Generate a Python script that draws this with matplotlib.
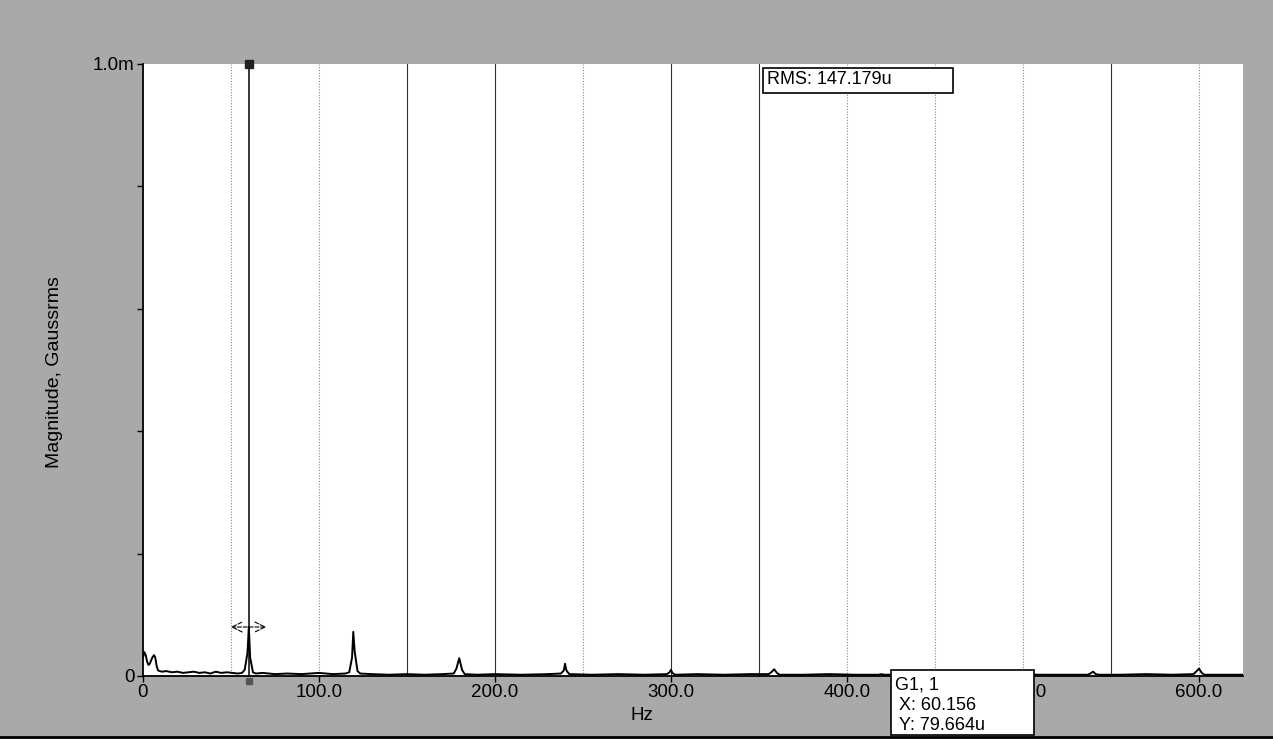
import matplotlib.pyplot as plt
from matplotlib.patches import Rectangle

plt.rcParams['font.family'] = ['Liberation Sans', 'DejaVu Sans']

# spectrum: frequency in Hz, magnitude in micro-gauss rms
freq_hz = [0.0, 0.8, 1.6, 2.3, 3.1, 3.9, 4.7, 5.5, 6.3, 7.0, 7.8, 8.6, 9.4, 10.9,
           13.3, 16.4, 19.5, 22.7, 25.8, 28.9, 32.0, 35.2, 38.3, 41.4, 44.5, 47.7,
           50.8, 53.9, 56.3, 57.8, 59.4, 60.156, 60.9, 62.5, 64.1, 68.0, 75.0, 82.0,
           90.0, 95.0, 100.0, 108.0, 115.0, 117.2, 118.8, 119.5, 120.3, 121.9, 123.4,
           130.0, 140.0, 150.0, 160.0, 170.0, 176.6, 178.1, 179.7, 181.3, 182.8,
           190.0, 200.0, 215.0, 230.0, 237.5, 239.1, 239.8, 240.6, 242.2, 255.0,
           270.0, 285.0, 297.7, 299.2, 300.0, 300.8, 302.3, 315.0, 330.0, 345.0,
           355.5, 357.0, 358.6, 360.2, 361.7, 375.0, 390.0, 405.0, 418.0, 419.5,
           421.1, 422.7, 435.0, 450.0, 465.0, 480.0, 495.0, 510.0, 525.0, 536.7,
           538.3, 539.8, 541.4, 543.0, 555.0, 570.0, 585.0, 596.9, 598.4, 600.0,
           601.6, 603.1, 615.0, 625.0]
mag_u = [30, 39, 34, 24, 18, 20, 26, 31, 34, 30, 16, 9, 8, 7,
         8, 6, 7, 5, 6, 7, 5, 6, 4, 7, 5, 6,
         5, 4, 5, 10, 38, 79.664, 30, 6, 4, 5, 3, 4,
         3, 4, 5, 3, 4, 6, 30, 72, 40, 8, 4,
         3, 2, 3, 2, 3, 4, 12, 29, 10, 3,
         2, 3, 2, 3, 4, 9, 20, 9, 3, 2,
         3, 2, 3, 6, 10, 5, 2, 3, 2, 3,
         3, 6, 11, 5, 2, 2, 3, 2, 2, 3,
         2, 2, 2, 3, 2, 2, 3, 2, 2, 2,
         4, 7, 3, 2, 2, 3, 2, 3, 7, 12,
         5, 2, 2, 2]

dark_grid_hz = [150, 200, 300, 350, 550]
light_grid_hz = [50, 100, 250, 400, 450, 500, 600]
x_ticks = [0, 100, 200, 300, 400, 500, 600]
x_tick_labels = ['0', '100.0', '200.0', '300.0', '400.0', '500.0', '600.0']
y_ticks = [0, 200, 400, 600, 800, 1000]
y_tick_labels = ['0', '', '', '', '', '1.0m']

cursor_x = 60.156
cursor_y = 79.664
rms_text = 'RMS: 147.179u'

fig = plt.figure(figsize=(12.73, 7.39), dpi=100, facecolor='#a9a9a9')
ax = fig.add_axes([0.1123, 0.0853, 0.8641, 0.8281])
ax.set_facecolor('white')

for g in light_grid_hz:
    ax.axvline(g, color='#8a8a8a', lw=0.8, ls=(0, (1, 1.5)), zorder=1)
for g in dark_grid_hz:
    ax.axvline(g, color='#333333', lw=0.8, zorder=1)

ax.plot(freq_hz, mag_u, color='black', lw=1.4, zorder=3)

# cursor
ax.axvline(cursor_x, color='black', lw=1.1, zorder=4)
ax.plot([cursor_x], [1000], marker='s', ms=6, color='#222222', clip_on=False, zorder=5)
ax.plot([cursor_x], [-8], marker='s', ms=5, color='#555555', clip_on=False, zorder=5)
ax.annotate('', xy=(50, 80), xytext=(70, 80),
            arrowprops=dict(arrowstyle='<->', lw=0.8, ls='--', color='black',
                            mutation_scale=18, shrinkA=0, shrinkB=0))

ax.set_xlim(0, 625)
ax.set_ylim(0, 1000)
ax.set_xticks(x_ticks)
ax.set_xticklabels(x_tick_labels, fontsize=13.5)
ax.set_yticks(y_ticks)
ax.set_yticklabels(y_tick_labels, fontsize=13.5)
ax.tick_params(axis='both', direction='out', length=4, width=1, pad=2)

for side in ['top', 'right']:
    ax.spines[side].set_visible(False)
for side in ['left', 'bottom']:
    ax.spines[side].set_linewidth(1.3)

fig.text(55 / 1273, 1 - 372 / 739, 'Magnitude, Gaussrms', rotation=90,
         ha='center', va='center', fontsize=14)
fig.text(642 / 1273, 1 - 716 / 739, 'Hz', ha='center', va='center', fontsize=13.5)

# RMS readout box
fig.patches.append(Rectangle((763 / 1273, 1 - 93 / 739), 190 / 1273, 25 / 739,
                             transform=fig.transFigure, facecolor='white',
                             edgecolor='black', lw=1.2, zorder=10))
fig.text(767 / 1273, 1 - 80 / 739, rms_text, ha='left', va='center',
         fontsize=13, zorder=11)

# cursor readout box
fig.patches.append(Rectangle((891 / 1273, 1 - 735 / 739), 143 / 1273, 65 / 739,
                             transform=fig.transFigure, facecolor='white',
                             edgecolor='black', lw=1.2, zorder=10))
fig.text(895 / 1273, 1 - 685 / 739, 'G1, 1', ha='left', va='center', fontsize=13, zorder=11)
fig.text(899 / 1273, 1 - 706 / 739, f'X: {cursor_x:.3f}', ha='left', va='center',
         fontsize=13, zorder=11)
fig.text(899 / 1273, 1 - 726 / 739, f'Y: {cursor_y:.3f}u', ha='left', va='center',
         fontsize=13, zorder=11)

fig.add_artist(plt.Line2D([0, 1], [1 - 737 / 739] * 2, transform=fig.transFigure,
                          color='black', lw=2))

fig.savefig('out.png', dpi=100, facecolor=fig.get_facecolor())
